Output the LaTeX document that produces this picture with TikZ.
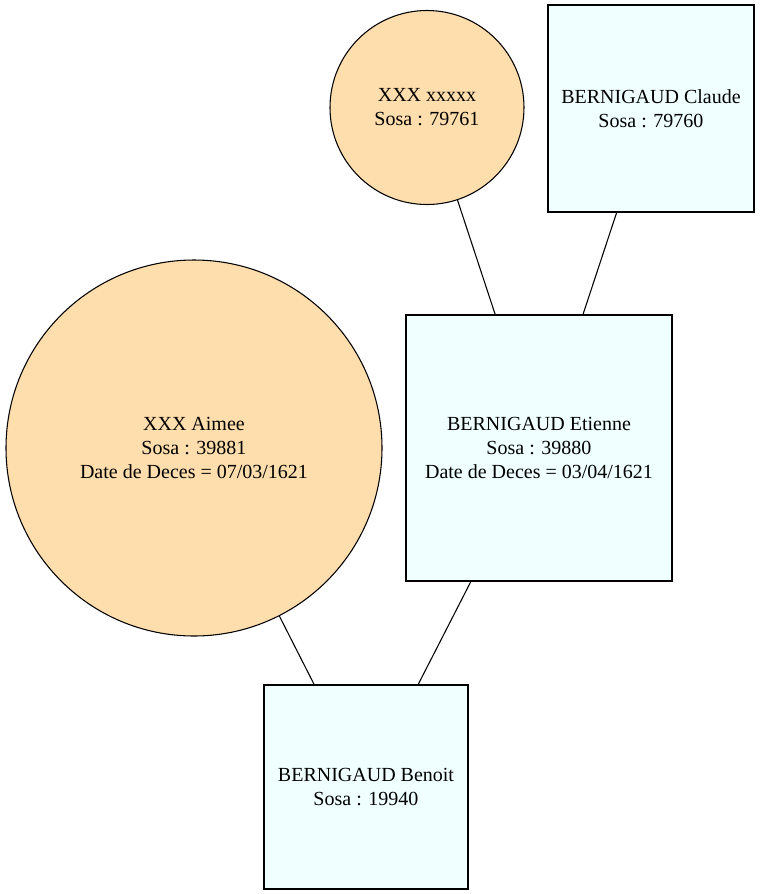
\documentclass[tikz,border=0pt]{standalone}
\usepackage{fontspec}
\setmainfont{Liberation Serif}
\definecolor{navw}{HTML}{FFDEAD}
\definecolor{azr}{HTML}{F0FFFF}
\begin{document}
\begin{tikzpicture}[x=0.75pt,y=-0.75pt,
  every node/.style={font=\fontsize{15}{18}\selectfont, align=center, inner sep=0pt, draw=black, line width=0.8pt},
  fem/.style={circle, fill=navw},
  male/.style={rectangle, fill=azr},
  link/.style={draw=black, line width=0.8pt}]
\useasboundingbox (0,0) rectangle (760,894);
\node[fem, minimum size=194*0.75pt] (x) at (427,107.5) {XXX xxxxx\\Sosa : 79761};
\node[male, minimum width=206*0.75pt, minimum height=207*0.75pt] (c) at (651,108.5) {BERNIGAUD Claude\\Sosa : 79760};
\node[fem, minimum size=376*0.75pt] (a) at (194,448) {XXX Aimee\\Sosa : 39881\\Date de Deces = 07/03/1621};
\node[male, minimum width=266*0.75pt, minimum height=266*0.75pt] (e) at (539,448) {BERNIGAUD Etienne\\Sosa : 39880\\Date de Deces = 03/04/1621};
\node[male, minimum width=204*0.75pt, minimum height=204*0.75pt] (b) at (366,787) {BERNIGAUD Benoit\\Sosa : 19940};
\draw[link] (x) -- (e);
\draw[link] (c) -- (e);
\draw[link] (a) -- (b);
\draw[link] (e) -- (b);
\end{tikzpicture}
\end{document}
